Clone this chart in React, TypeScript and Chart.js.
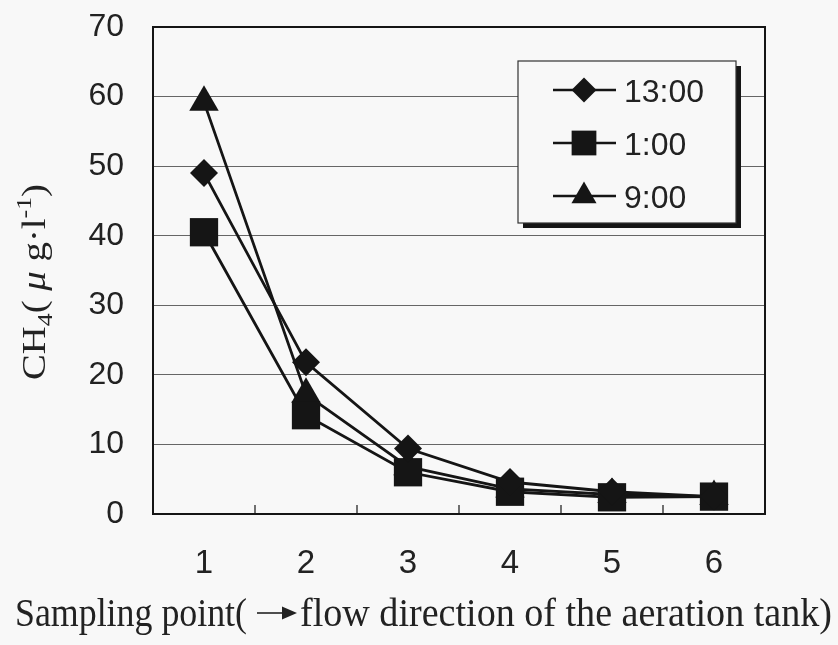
import { useEffect, useRef } from 'react';
import { Chart, registerables } from 'chart.js';

Chart.register(...registerables);

// Sampling points along the aeration tank
const samplingPoints = ['1', '2', '3', '4', '5', '6'];

// CH4 concentration (μg·l-1) at each sampling point, by sampling time
const ch4At1300 = [49, 21.8, 9.4, 4.6, 3.2, 2.5];
const ch4At0100 = [40.5, 14.2, 6.0, 3.2, 2.4, 2.5];
const ch4At0900 = [59.2, 17.2, 6.8, 3.6, 2.8, 2.5];

const seriesNames = ['13:00', '1:00', '9:00'];
const seriesMarkers = ['rectRot', 'rect', 'triangle'];
const markerRadii = [14, 20, 17];

const yMin = 0;
const yMax = 70;
const yStep = 10;

const INK = '#151515';
const TEXT = '#222222';
const PAPER = '#f8f8f8';
const SANS = '"Liberation Sans", Arial, sans-serif';
const SERIF = '"Liberation Serif", "Times New Roman", serif';

function drawMarker(ctx: CanvasRenderingContext2D, kind: string, x: number, y: number, r: number) {
  ctx.beginPath();
  if (kind === 'rectRot') {
    ctx.moveTo(x - r, y);
    ctx.lineTo(x, y - r);
    ctx.lineTo(x + r, y);
    ctx.lineTo(x, y + r);
  } else if (kind === 'rect') {
    const h = r * Math.SQRT1_2;
    ctx.rect(x - h, y - h, 2 * h, 2 * h);
  } else {
    const a = (2 * Math.PI) / 3;
    ctx.moveTo(x, y - r);
    ctx.lineTo(x + Math.sin(a) * r, y - Math.cos(a) * r);
    ctx.lineTo(x + Math.sin(2 * a) * r, y - Math.cos(2 * a) * r);
  }
  ctx.closePath();
  ctx.fill();
}

// Background, plot frame and inward category tick marks
const framePlugin = {
  id: 'frame',
  beforeDraw(chart: any) {
    const { ctx, width, height } = chart;
    ctx.save();
    ctx.fillStyle = PAPER;
    ctx.fillRect(0, 0, width, height);
    ctx.restore();
  },
  beforeDatasetsDraw(chart: any) {
    const { ctx, chartArea } = chart;
    const xs = chart.scales.x;
    ctx.save();
    ctx.strokeStyle = INK;
    ctx.lineWidth = 2;
    ctx.strokeRect(chartArea.left, chartArea.top, chartArea.right - chartArea.left, chartArea.bottom - chartArea.top);
    ctx.lineWidth = 1.2;
    for (let i = 1; i < samplingPoints.length; i++) {
      const bx = (xs.getPixelForValue(i - 1) + xs.getPixelForValue(i)) / 2;
      ctx.beginPath();
      ctx.moveTo(bx, chartArea.bottom);
      ctx.lineTo(bx, chartArea.bottom - 9);
      ctx.stroke();
    }
    ctx.restore();
  },
};

// Boxed legend with drop shadow, line-and-marker keys
const legendPlugin = {
  id: 'boxLegend',
  afterDraw(chart: any) {
    const { ctx } = chart;
    const bx = 518, by = 61, bw = 218, bh = 162;
    ctx.save();
    ctx.fillStyle = INK;
    ctx.fillRect(bx + 5, by + 5, bw, bh);
    ctx.fillStyle = PAPER;
    ctx.fillRect(bx, by, bw, bh);
    ctx.strokeStyle = '#333';
    ctx.lineWidth = 1.2;
    ctx.strokeRect(bx, by, bw, bh);
    const legendSizes = [12.5, 17.5, 14.5];
    chart.data.datasets.forEach((ds: any, i: number) => {
      const baseline = 102 + i * 53;
      const cy = baseline - 12;
      ctx.strokeStyle = INK;
      ctx.lineWidth = 2.5;
      ctx.beginPath();
      ctx.moveTo(553, cy);
      ctx.lineTo(616, cy);
      ctx.stroke();
      ctx.fillStyle = INK;
      drawMarker(ctx, ds.pointStyle, 584, cy, legendSizes[i]);
      ctx.fillStyle = TEXT;
      ctx.font = `32px ${SANS}`;
      ctx.textBaseline = 'alphabetic';
      ctx.textAlign = 'left';
      ctx.fillText(ds.label, 624, baseline);
    });
    ctx.restore();
  },
};

// Axis titles with sub- and superscripts
const titlePlugin = {
  id: 'axisTitles',
  afterDraw(chart: any) {
    const { ctx } = chart;
    ctx.save();
    ctx.fillStyle = TEXT;
    ctx.textBaseline = 'alphabetic';
    ctx.textAlign = 'left';

    // y title: CH4(μ g·l-1), rotated, reading upwards
    const big = `33px ${SERIF}`;
    const small = `22px ${SERIF}`;
    const parts = [
      { t: 'CH', f: big, dy: 0 },
      { t: '4', f: small, dy: 7 },
      { t: '( ', f: big, dy: 0 },
      { t: 'μ', f: `italic 33px ${SERIF}`, dy: 0 },
      { t: ' g·l', f: big, dy: 0 },
      { t: '-1', f: small, dy: -14 },
      { t: ')', f: big, dy: 0 },
    ];
    let natural = 0;
    parts.forEach((p) => { ctx.font = p.f; natural += ctx.measureText(p.t).width; });
    const targetLen = 196;
    const s = targetLen / natural;
    ctx.save();
    ctx.translate(45, 282 + targetLen / 2);
    ctx.rotate(-Math.PI / 2);
    ctx.scale(s, 1);
    let px = 0;
    parts.forEach((p) => {
      ctx.font = p.f;
      ctx.fillText(p.t, px, p.dy);
      px += ctx.measureText(p.t).width;
    });
    ctx.restore();

    // x title with a solid arrow between the two phrases
    ctx.font = `40px ${SERIF}`;
    const left = 'Sampling point(';
    const right = 'flow direction of the aeration tank)';
    const w1 = ctx.measureText(left).width;
    const w2 = ctx.measureText(right).width;
    const base = 626;
    ctx.save();
    ctx.translate(15, base);
    ctx.scale(232 / w1, 1);
    ctx.fillText(left, 0, 0);
    ctx.restore();
    ctx.save();
    ctx.translate(300, base);
    ctx.scale(532 / w2, 1);
    ctx.fillText(right, 0, 0);
    ctx.restore();
    const ay = 613;
    ctx.strokeStyle = TEXT;
    ctx.lineWidth = 1.6;
    ctx.beginPath();
    ctx.moveTo(257, ay);
    ctx.lineTo(284, ay);
    ctx.stroke();
    ctx.beginPath();
    ctx.moveTo(282, ay - 6.5);
    ctx.lineTo(297, ay);
    ctx.lineTo(282, ay + 6.5);
    ctx.closePath();
    ctx.fill();
    ctx.restore();
  },
};

export default function App() {
  const canvasRef = useRef<HTMLCanvasElement | null>(null);

  useEffect(() => {
    document.body.style.margin = '0';
    const canvas = canvasRef.current;
    if (!canvas) return;
    const series = [ch4At1300, ch4At0100, ch4At0900];
    const chart = new Chart(canvas, {
      type: 'line',
      data: {
        labels: samplingPoints,
        datasets: series.map((values, i) => ({
          label: seriesNames[i],
          data: values,
          borderColor: INK,
          backgroundColor: INK,
          borderWidth: 2.8,
          pointStyle: seriesMarkers[i] as any,
          pointRadius: markerRadii[i],
          pointHoverRadius: markerRadii[i],
          pointBackgroundColor: INK,
          pointBorderColor: INK,
          pointBorderWidth: 0,
          tension: 0,
          fill: false,
          clip: false,
        })),
      },
      options: {
        responsive: false,
        animation: false,
        events: [],
        layout: { autoPadding: false, padding: { top: 27, right: 73, left: 0, bottom: 0 } },
        plugins: {
          legend: { display: false },
          tooltip: { enabled: false },
          title: { display: false },
        },
        scales: {
          x: {
            type: 'category',
            offset: true,
            border: { display: false },
            grid: { display: false, drawTicks: false },
            ticks: {
              color: TEXT,
              font: { family: SANS, size: 33 },
              padding: 30,
              maxRotation: 0,
            },
            afterFit(scale: any) {
              scale.height = 131;
              scale.paddingLeft = 0;
              scale.paddingRight = 0;
            },
          },
          y: {
            min: yMin,
            max: yMax,
            border: { display: false },
            grid: { color: '#666666', lineWidth: 1, drawTicks: false },
            ticks: {
              stepSize: yStep,
              color: TEXT,
              font: { family: SANS, size: 32 },
              padding: 29,
            },
            afterFit(scale: any) {
              scale.width = 153;
              scale.paddingTop = 0;
              scale.paddingBottom = 0;
            },
          },
        },
      },
      plugins: [framePlugin, legendPlugin, titlePlugin],
    });
    return () => chart.destroy();
  }, []);

  return (
    <div style={{ width: 838, height: 645, background: PAPER }}>
      <canvas ref={canvasRef} width={838} height={645} style={{ display: 'block' }} />
    </div>
  );
}
